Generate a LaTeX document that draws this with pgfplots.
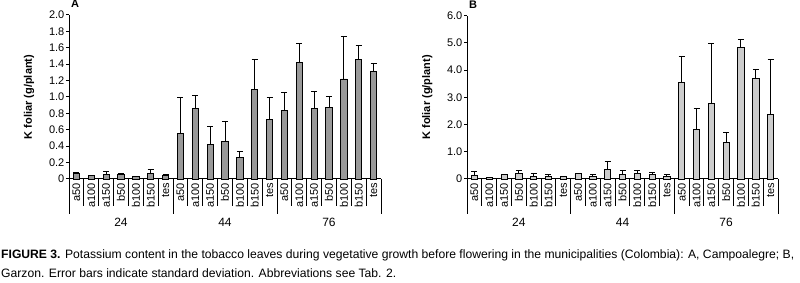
\documentclass[border=0pt]{standalone}
\usepackage{fontspec}
\setmainfont{Liberation Sans}
\usepackage{pgfplots}
\pgfplotsset{compat=1.18}
\definecolor{barA}{RGB}{153,153,153}
\definecolor{barB}{RGB}{204,204,204}
\newcommand{\tickfont}{\fontsize{11bp}{13bp}\selectfont}
\pgfplotsset{
  panel/.style={
    scale only axis,
    xmin=-0.5, xmax=20.5, ymin=0,
    clip=false,
    axis lines*=left,
    axis line style={line width=1bp, black},
    tick align=outside,
    major tick length=3bp,
    tick style={line width=1bp, black},
    xtick={0,...,20},
    xticklabels={a50,a100,a150,b50,b100,b150,tes,a50,a100,a150,b50,b100,b150,tes,a50,a100,a150,b50,b100,b150,tes},
    xtick style={draw=none},
    xticklabel style={rotate=90, anchor=east, font=\tickfont, inner sep=1bp},
    yticklabel style={font=\tickfont, inner sep=1.5bp},
    every axis y label/.style={at={(axis description cs:-0.128,0.5)}, rotate=90, anchor=center, font=\bfseries\fontsize{11bp}{13bp}\selectfont},
    ylabel={K foliar (g/plant)},
    ybar, bar width=0.42,
  },
  errs/.style={
    error bars/y dir=plus, error bars/y explicit,
    error bars/error bar style={line width=1bp, black},
    error bars/error mark options={rotate=90, mark size=3bp, line width=1bp, black},
  },
}
\newcommand{\separators}{%
  \pgfplotsinvokeforeach{0.5,1.5,2.5,3.5,4.5,5.5,7.5,8.5,9.5,10.5,11.5,12.5,14.5,15.5,16.5,17.5,18.5,19.5}{%
    \draw[line width=1bp] (axis cs:##1,0) -- ([yshift=-27bp]axis cs:##1,0);}%
  \pgfplotsinvokeforeach{-0.5,6.5,13.5,20.5}{%
    \draw[line width=1bp] (axis cs:##1,0) -- ([yshift=-35bp]axis cs:##1,0);}%
  \node[font=\fontsize{12bp}{14bp}\selectfont] at ([yshift=-43bp]axis cs:3,0) {24};
  \node[font=\fontsize{12bp}{14bp}\selectfont] at ([yshift=-43bp]axis cs:10,0) {44};
  \node[font=\fontsize{12bp}{14bp}\selectfont] at ([yshift=-43bp]axis cs:17,0) {76};
}
\begin{document}
\begin{tikzpicture}
\useasboundingbox (0,0) rectangle (800bp,283bp);
\begin{axis}[panel, at={(69bp,104bp)}, anchor=south west, width=312bp, height=164bp,
  ymax=2.0,
  ytick={0,0.2,0.4,0.6,0.8,1,1.2,1.4,1.6,1.8,2},
  yticklabels={0,0.2,0.4,0.6,0.8,1.0,1.2,1.4,1.6,1.8,2.0}]
\addplot[fill=barA, draw=black, line width=0.8bp, errs] coordinates {
(0,0.07) +- (0,0.005)
(1,0.04) +- (0,0.005)
(2,0.06) +- (0,0.035)
(3,0.06) +- (0,0.005)
(4,0.03) +- (0,0.003)
(5,0.07) +- (0,0.04)
(6,0.045) +- (0,0.01)
(7,0.55) +- (0,0.44)
(8,0.86) +- (0,0.16)
(9,0.42) +- (0,0.22)
(10,0.46) +- (0,0.24)
(11,0.265) +- (0,0.075)
(12,1.09) +- (0,0.37)
(13,0.73) +- (0,0.26)
(14,0.84) +- (0,0.22)
(15,1.42) +- (0,0.23)
(16,0.86) +- (0,0.21)
(17,0.87) +- (0,0.13)
(18,1.22) +- (0,0.52)
(19,1.46) +- (0,0.17)
(20,1.31) +- (0,0.10)
};
\separators
\node[font=\bfseries\fontsize{11bp}{13bp}\selectfont, anchor=base west, inner sep=0] at (axis description cs:0,1) [xshift=2bp, yshift=7bp] {A};
\end{axis}
\begin{axis}[panel, at={(467bp,104bp)}, anchor=south west, width=311bp, height=163.3bp,
  ymax=6.0,
  ytick={0,1,2,3,4,5,6},
  yticklabels={0,1.0,2.0,3.0,4.0,5.0,6.0}]
\addplot[fill=barB, draw=black, line width=0.8bp, errs] coordinates {
(0,0.15) +- (0,0.11)
(1,0.05) +- (0,0.01)
(2,0.16) +- (0,0.02)
(3,0.21) +- (0,0.11)
(4,0.10) +- (0,0.11)
(5,0.10) +- (0,0.08)
(6,0.08) +- (0,0.02)
(7,0.20) +- (0,0.01)
(8,0.10) +- (0,0.08)
(9,0.36) +- (0,0.29)
(10,0.17) +- (0,0.13)
(11,0.21) +- (0,0.09)
(12,0.17) +- (0,0.06)
(13,0.10) +- (0,0.07)
(14,3.55) +- (0,0.95)
(15,1.83) +- (0,0.77)
(16,2.78) +- (0,2.21)
(17,1.35) +- (0,0.37)
(18,4.84) +- (0,0.29)
(19,3.70) +- (0,0.33)
(20,2.38) +- (0,2.02)
};
\separators
\node[font=\bfseries\fontsize{11bp}{13bp}\selectfont, anchor=base west, inner sep=0] at (axis description cs:0,1) [xshift=2bp, yshift=7bp] {B};
\end{axis}
\node[anchor=base west, inner sep=0, font=\fontsize{12.15bp}{14bp}\selectfont] at (1bp,24.5bp) {\textbf{FIGURE 3.} Potassium content in the tobacco leaves during vegetative growth before flowering in the municipalities (Colombia): A, Campoalegre; B,};
\node[anchor=base west, inner sep=0, font=\fontsize{12.15bp}{14bp}\selectfont] at (1bp,5.5bp) {Garzon. Error bars indicate standard deviation. Abbreviations see Tab. 2.};
\end{tikzpicture}
\end{document}
